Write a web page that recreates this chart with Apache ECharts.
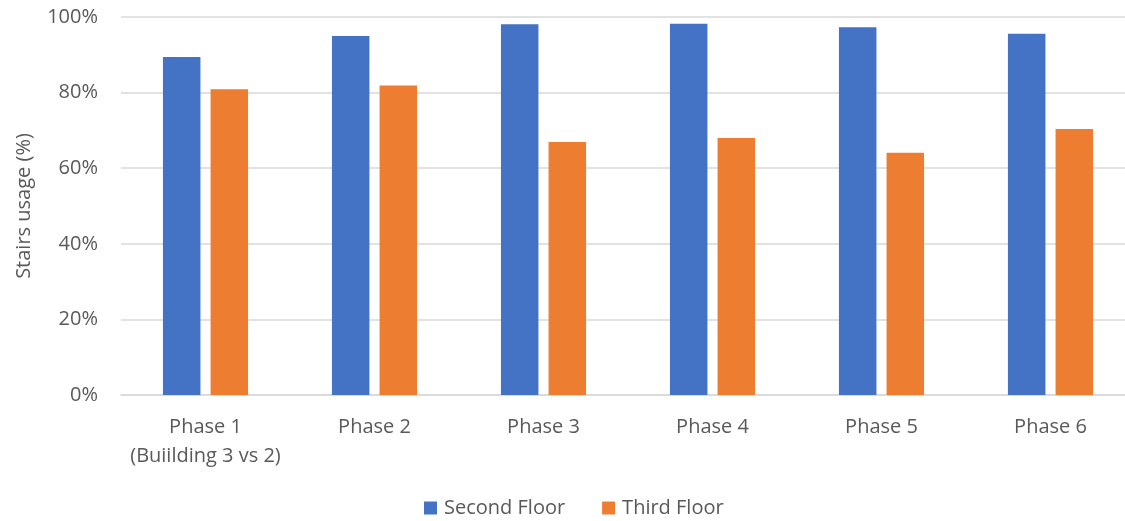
<!DOCTYPE html>
<html>
<head>
<meta charset="utf-8">
<script src="https://cdn.jsdelivr.net/npm/echarts@6/dist/echarts.min.js"></script>
<style>html,body{margin:0;padding:0;background:#fff;overflow:hidden}#c{width:1135px;height:521px}</style>
</head>
<body>
<div id="c"></div>
<script>
const categories = ["Phase 1\n(Buiilding 3 vs 2)", "Phase 2", "Phase 3", "Phase 4", "Phase 5", "Phase 6"];
const secondFloor = [89.4, 95.0, 98.1, 98.2, 97.3, 95.6];
const thirdFloor = [80.9, 81.9, 66.9, 68.0, 64.1, 70.4];
const yTicks = [0, 20, 40, 60, 80, 100];

const FONT = "Open Sans";
const TXT = "#595959";
const chart = echarts.init(document.getElementById('c'));
chart.setOption({
  animation: false,
  textStyle: { fontFamily: FONT },
  grid: { left: 121, right: 0, top: 17, height: 378, containLabel: false },
  legend: {
    left: 419, top: 493,
    itemWidth: 13, itemHeight: 13, itemGap: 37,
    icon: 'rect',
    textStyle: { fontFamily: FONT, fontSize: 20, color: TXT, padding: [0, 0, 0, 2] },
    data: ["Second Floor", "Third Floor"]
  },
  xAxis: {
    type: 'category',
    data: categories,
    axisLine: { lineStyle: { color: '#d9d9d9', width: 1.5 } },
    axisTick: { show: false },
    axisLabel: { fontFamily: FONT, fontSize: 20, color: TXT, margin: 18, lineHeight: 29, interval: 0 }
  },
  yAxis: {
    type: 'value', min: 0, max: 100, interval: 20,
    name: 'Stairs usage (%)',
    nameLocation: 'middle', nameGap: 87, nameRotate: 90,
    nameTextStyle: { fontFamily: FONT, fontSize: 20, color: TXT },
    axisLine: { show: false }, axisTick: { show: false },
    splitLine: { lineStyle: { color: '#d9d9d9', width: 1.5 } },
    axisLabel: { fontFamily: FONT, fontSize: 20, color: TXT, margin: 23,
      formatter: v => yTicks.includes(v) ? v + '%' : '' }
  },
  series: [
    { name: "Second Floor", type: 'bar', data: secondFloor, barWidth: 37.5, barGap: '27%',
      itemStyle: { color: '#4472C4' } },
    { name: "Third Floor", type: 'bar', data: thirdFloor, barWidth: 37.5,
      itemStyle: { color: '#ED7D31' } }
  ]
});
</script>
</body>
</html>
